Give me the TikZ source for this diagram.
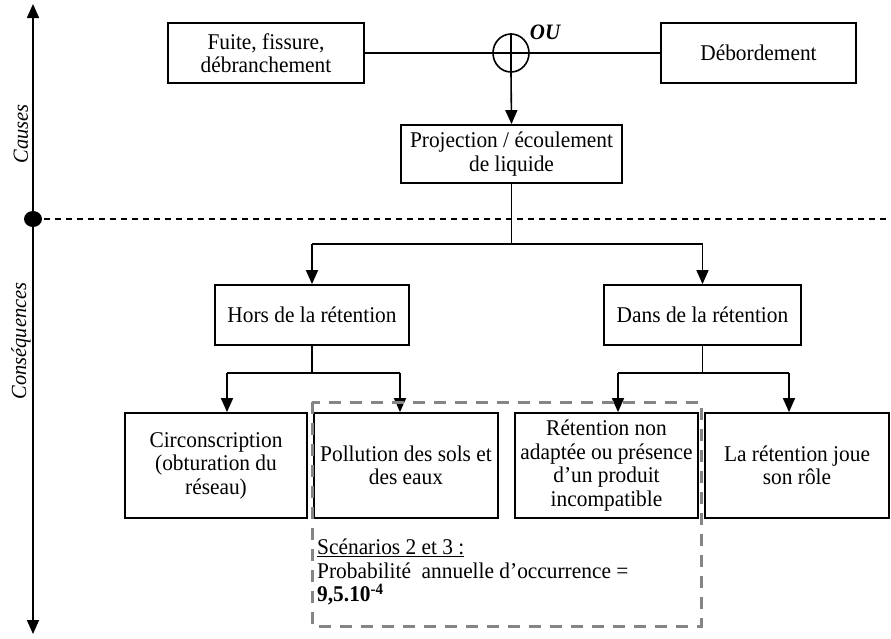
\documentclass[tikz,border=0pt]{standalone}
\usepackage{fontspec}
\setmainfont{Liberation Serif}[FakeStretch=0.95]
\usetikzlibrary{arrows.meta,shapes.geometric}
\begin{document}
\begin{tikzpicture}[x=1pt,y=-1pt,
  every node/.style={font=\fontsize{22.5}{23.5}\selectfont},
  box/.style={draw,line width=1.8pt,align=center,inner sep=2pt},
  link/.style={line width=1.6pt},
  tip/.tip={Triangle[length=14pt,width=12pt]},
  arr/.style={link,-tip},
  zone/.style={draw=black!48,line width=3pt,dash pattern=on 12pt off 9pt},
  phase/.style={rotate=90,font=\fontsize{21.5}{23}\selectfont\itshape}]
\useasboundingbox (0,0) rectangle (891,638);

% time axis with the causes / consequences split
\coordinate (axtop) at (33,4);
\coordinate (axbot) at (33,634);
\coordinate (split) at (33,219);
\coordinate (splitend) at (891,219);
\draw[link,tip-tip] (axtop) -- (axbot);
\draw[link,dash pattern=on 6pt off 5pt] (split) -- (splitend);
\fill (split) ellipse (9pt and 8pt);
\node[phase] (causes) at (21,134) {Causes};
\node[phase] (conseq) at (21,341) {Conséquences};

% causes
\node[box,minimum width=196pt,minimum height=60pt] (fuite) at (266,53) {Fuite, fissure,\\débranchement};
\node[box,minimum width=195pt,minimum height=60pt] (deb) at (758.5,53) {Débordement};
\node[draw,ellipse,line width=1.6pt,minimum width=36pt,minimum height=38pt,inner sep=0pt] (ou) at (511,53) {};
\node[font=\fontsize{22}{23}\selectfont\bfseries\itshape] (oulabel) at (545,32) {OU};
\node[box,minimum width=221pt,minimum height=58pt] (proj) at (511.5,154) {Projection / écoulement\\de liquide};

\draw[link] (fuite.east) -- (deb.west);
\draw[link] (ou.north) -- (ou.south);
\draw[arr] (ou.south) -- (proj.north);

% first level of consequences
\node[box,minimum width=194pt,minimum height=60pt] (hors) at (312,315) {Hors de la rétention};
\node[box,minimum width=197pt,minimum height=60pt] (dans) at (702.5,315) {Dans de la rétention};

\coordinate (j1) at (511.5,244);
\coordinate (j1l) at (312,244);
\coordinate (j1r) at (702.5,244);
\draw[link] (proj.south) -- (j1);
\draw[link] (j1l) -- (j1r);
\draw[arr] (j1l) -- (hors.north);
\draw[arr] (j1r) -- (dans.north);

% second level of consequences
\node[box,minimum width=182pt,minimum height=105pt] (circ) at (216,465.5) {Circonscription\\(obturation du\\réseau)};
\node[box,minimum width=184pt,minimum height=105pt] (poll) at (406,465.5) {Pollution des sols et\\des eaux};
\node[box,minimum width=183pt,minimum height=105pt] (retnon) at (606.5,465.5) {Rétention non\\adaptée ou présence\\d’un produit\\incompatible};
\node[box,minimum width=184pt,minimum height=105pt] (joue) at (797,465.5) {La rétention joue\\son rôle};

\coordinate (j2) at (312,373);
\coordinate (j2l) at (227,373);
\coordinate (j2r) at (400,373);
\draw[link] (hors.south) -- (j2);
\draw[link] (j2l) -- (j2r);
\draw[arr] (j2l) -- (j2l |- circ.north);
\draw[arr] (j2r) -- (j2r |- poll.north);

\coordinate (j3) at (702.5,373);
\coordinate (j3l) at (618,373);
\coordinate (j3r) at (789,373);
\draw[link] (dans.south) -- (j3);
\draw[link] (j3l) -- (j3r);
\draw[arr] (j3l) -- (j3l |- retnon.north);
\draw[arr] (j3r) -- (j3r |- joue.north);

% scenarios grouped in the dashed zone
\coordinate (zonetl) at (312,402);
\coordinate (zonebr) at (701,626);
\draw[zone] (zonetl) rectangle (zonebr);
\node[anchor=north west,align=left,inner sep=0pt] (scen) at (317,539)
  {\underline{Scénarios 2 et 3 :}\\Probabilité~ annuelle d’occurrence =\\\textbf{9,5.10}\textsuperscript{\textbf{-4}}};
\end{tikzpicture}
\end{document}
